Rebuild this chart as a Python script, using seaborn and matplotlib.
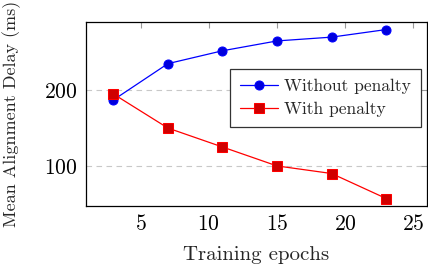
import numpy as np
import pandas as pd
import matplotlib
matplotlib.use("Agg")
import matplotlib.pyplot as plt
import seaborn as sns

# Data
epochs = [3, 7, 11, 15, 19, 23]
delay_without = [187, 235, 252, 265, 270, 280]
delay_with = [195, 150, 125, 100, 90, 57]
x_ticks = [5, 10, 15, 20, 25]
y_ticks = [100, 200]

sns.set_style("white")
plt.rcParams["font.family"] = "serif"
plt.rcParams["font.serif"] = ["cmr10", "DejaVu Serif"]
plt.rcParams["mathtext.fontset"] = "cm"
plt.rcParams["axes.formatter.use_mathtext"] = True

TICK_FONT = 15.5
LABEL_FONT = 15
YLABEL_FONT = 13
LEGEND_FONT = 12.6

fig = plt.figure(figsize=(4.28, 2.68), dpi=100)
ax = fig.add_axes([0.201, 0.231, 0.797, 0.687])

sns.lineplot(x=epochs, y=delay_without, ax=ax, color="#0000ff", lw=0.9,
             marker="o", markersize=6.5, markerfacecolor="#0000dd",
             markeredgecolor="#0000ff", label="Without penalty")
sns.lineplot(x=epochs, y=delay_with, ax=ax, color="#ff0000", lw=0.9,
             marker="s", markersize=6.5, markerfacecolor="#d00000",
             markeredgecolor="#ff0000", label="With penalty")

ax.set_xlim(1, 26)
ax.set_ylim(47, 290)
ax.set_xticks(x_ticks)
ax.set_yticks(y_ticks)
ax.yaxis.grid(True, linestyle=(0, (5, 4)), color="#c8c8c8", lw=0.8)
ax.set_axisbelow(True)

ax.tick_params(direction="in", length=4, width=0.8, color="#999999",
               top=True, right=True, labelsize=TICK_FONT, labelcolor="black", pad=6)
for s in ax.spines.values():
    s.set_color("black")
    s.set_linewidth(0.9)

ax.set_xlabel("Training epochs", fontsize=LABEL_FONT)
ax.xaxis.set_label_coords(0.5, -0.215)
ax.xaxis.label.set_va("top")
ax.set_ylabel("Mean Alignment Delay (ms)", fontsize=YLABEL_FONT)
ax.yaxis.set_label_coords(-0.192, 0.5)

leg = ax.legend(loc="upper right", bbox_to_anchor=(0.981, 0.745),
                fontsize=LEGEND_FONT, frameon=True, fancybox=False, framealpha=1,
                edgecolor="#333333", handlelength=2.2, borderpad=0.55,
                labelspacing=0.47, handletextpad=0.35, borderaxespad=0)
leg.get_frame().set_linewidth(0.9)

fig.savefig("out.png", dpi=100)
